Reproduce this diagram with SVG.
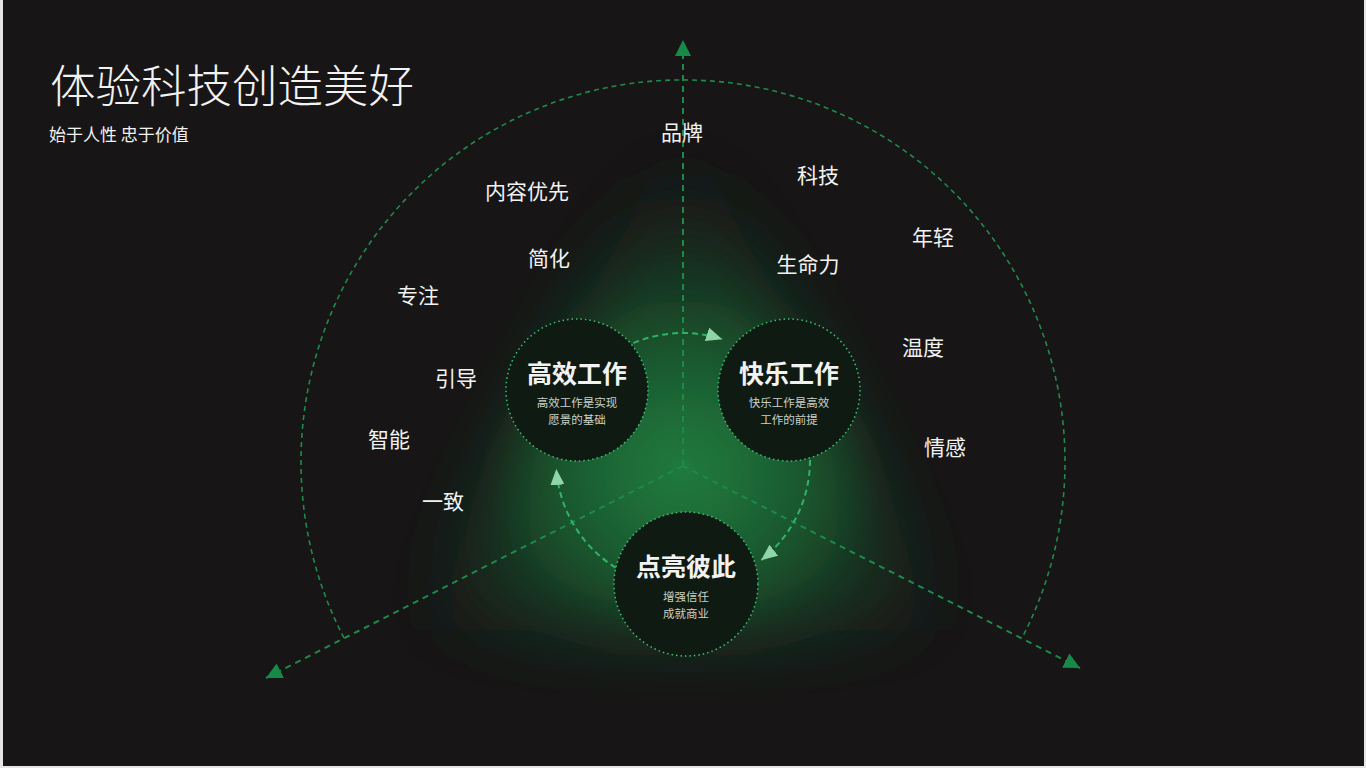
<svg xmlns="http://www.w3.org/2000/svg" width="1366" height="768" viewBox="0 0 1366 768">
  <defs>
    <style>
      .t { font-family: "Noto Sans CJK SC", "Noto Sans", sans-serif; fill: #f2f2f2; }
      .lbl { font-size: 21px; text-anchor: middle; }
      .nt { font-size: 25px; font-weight: bold; text-anchor: middle; }
      .ns { font-size: 11.5px; fill: #c9d2cb; text-anchor: middle; }
      .axis { fill: none; stroke: #1d8a4a; stroke-width: 2; stroke-dasharray: 6 5; }
      .outer { fill: none; stroke: #1f8a4c; stroke-width: 1.6; stroke-dasharray: 5 4; }
      .ring { fill: none; stroke: #2fb366; stroke-width: 2; stroke-dasharray: 6 4; }
      .node { fill: #0e1a12; stroke: #3cc070; stroke-width: 1.5; stroke-dasharray: 1.5 3; }
    </style>
    <marker id="axArrow" markerUnits="userSpaceOnUse" markerWidth="18" markerHeight="18" refX="16" refY="8" orient="auto" viewBox="0 0 18 16">
      <path d="M0 0 L16 8 L0 16 Z" fill="#178a48"/>
    </marker>
    <marker id="ringArrow" markerUnits="userSpaceOnUse" markerWidth="18" markerHeight="14" refX="16" refY="7" orient="auto" viewBox="0 0 18 14">
      <path d="M0 0 L16 7 L0 14 Z" fill="#8ed6a8"/>
    </marker>
    <radialGradient id="glow" cx="683" cy="470" r="330" gradientUnits="userSpaceOnUse">
      <stop offset="0" stop-color="#1f7a3e" stop-opacity="1"/>
      <stop offset="0.5" stop-color="#17592e" stop-opacity="0.7"/>
      <stop offset="1" stop-color="#171516" stop-opacity="0"/>
    </radialGradient>
    <radialGradient id="core" cx="0.5" cy="0.5" r="0.5">
      <stop offset="0" stop-color="#208040" stop-opacity="0.7"/>
      <stop offset="1" stop-color="#1a5f32" stop-opacity="0"/>
    </radialGradient>
    <filter id="blur" x="-50%" y="-50%" width="200%" height="200%">
      <feGaussianBlur stdDeviation="38"/>
    </filter>
  </defs>

  <rect x="0" y="0" width="1366" height="768" fill="#e6e6e6"/>
  <rect x="3" y="0" width="1361" height="766" fill="#171516"/>

  <g id="glow-layer">
    <polygon points="683,120 420,630 946,630" fill="url(#glow)" filter="url(#blur)"/>
    <ellipse cx="683" cy="470" rx="200" ry="170" fill="url(#core)"/>
  </g>

  <g id="title">
    <text class="t" x="50" y="103" font-size="45.5" font-weight="300">体验科技创造美好</text>
    <text class="t" x="49" y="141" font-size="17">始于人性 忠于价值</text>
  </g>

  <g id="connectors">
    <path class="axis" d="M683 466 L683 40" marker-end="url(#axArrow)"/>
    <path class="axis" d="M683 466 L266 678" marker-end="url(#axArrow)"/>
    <path class="axis" d="M683 466 L1080 668" marker-end="url(#axArrow)"/>
    <path class="outer" d="M344 638 A382 382 0 1 1 1022 638"/>
    <path class="ring" d="M633.4 343.1 A127 127 0 0 1 722.2 339.2" marker-end="url(#ringArrow)"/>
    <path class="ring" d="M810 460 A127 127 0 0 1 761.2 560.1" marker-end="url(#ringArrow)"/>
    <path class="ring" d="M615.7 567.7 A127 127 0 0 1 556.3 468.9" marker-end="url(#ringArrow)"/>
  </g>

  <g id="labels">
    <text class="t lbl" x="682" y="140">品牌</text>
    <text class="t lbl" x="818" y="183">科技</text>
    <text class="t lbl" x="933" y="245">年轻</text>
    <text class="t lbl" x="808" y="272">生命力</text>
    <text class="t lbl" x="923" y="355">温度</text>
    <text class="t lbl" x="945" y="455">情感</text>
    <text class="t lbl" x="527" y="199">内容优先</text>
    <text class="t lbl" x="549" y="266">简化</text>
    <text class="t lbl" x="418" y="303">专注</text>
    <text class="t lbl" x="456" y="386">引导</text>
    <text class="t lbl" x="389" y="447">智能</text>
    <text class="t lbl" x="443" y="509">一致</text>
  </g>

  <g id="node-gaoxiao">
    <circle class="node" cx="577" cy="390" r="71"/>
    <text class="t nt" x="577" y="383">高效工作</text>
    <text class="t ns" x="577" y="407">高效工作是实现</text>
    <text class="t ns" x="577" y="424">愿景的基础</text>
  </g>

  <g id="node-kuaile">
    <circle class="node" cx="789" cy="390" r="71"/>
    <text class="t nt" x="789" y="383">快乐工作</text>
    <text class="t ns" x="789" y="407">快乐工作是高效</text>
    <text class="t ns" x="789" y="424">工作的前提</text>
  </g>

  <g id="node-dianliang">
    <circle class="node" cx="686" cy="584" r="72"/>
    <text class="t nt" x="686" y="576">点亮彼此</text>
    <text class="t ns" x="686" y="601">增强信任</text>
    <text class="t ns" x="686" y="618">成就商业</text>
  </g>
</svg>
